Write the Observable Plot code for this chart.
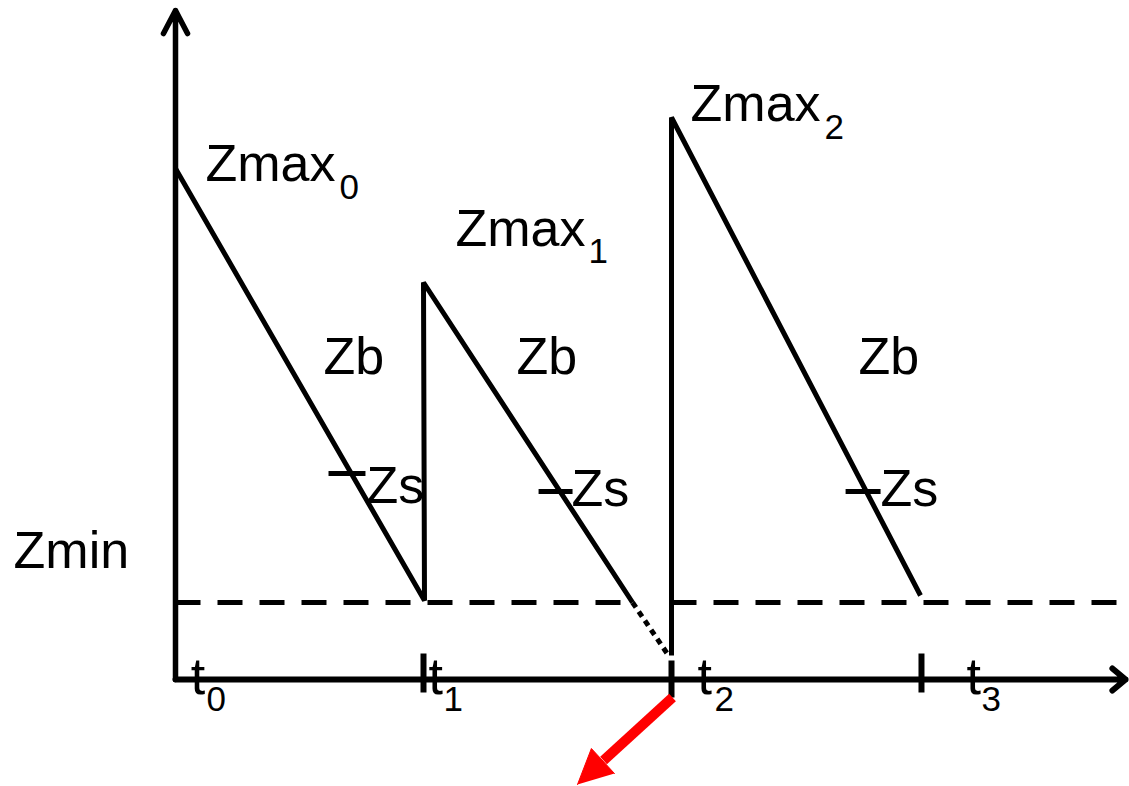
<!DOCTYPE html>
<html><head><meta charset="utf-8">
<script src="https://cdn.jsdelivr.net/npm/d3@7"></script>
<script src="https://cdn.jsdelivr.net/npm/@observablehq/plot@0.6"></script>
<style>html,body{margin:0;padding:0;background:#fff;} svg{display:block}</style>
</head><body><div id="chart"></div>
<script>
// ---- schematic values: t = time units, z = level units ----
// solid sawtooth vertices (two connected pieces)
const sawT   = [0, 1.004, 1.0, 1.843, 2.0, 2.0, 3.004];
const sawZ   = [5.11, 0.79, 3.97, 0.77, 0.24, 5.62, 0.84];
const sawSeg = ["a", "a", "a", "a", "b", "b", "b"];

// dotted continuation below Zmin
const dotT = [1.843, 1.988];
const dotZ = [0.77, 0.24];

// Zmin dashed level
const zmin = 0.77;
const zminStart = [0, 2.0];
const zminEnd = [1.843, 3.847];

// Zs short marks
const zsStart = [0.617, 1.464, 2.702];
const zsEnd   = [0.766, 1.601, 2.843];
const zsZ     = [2.06, 1.88, 1.88];

// time ticks on the axis
const tickT      = [1.0, 2.0, 3.008];
const tickTop    = [0.26, 0.19, 0.26];
const tickBottom = [-0.13, -0.18, -0.13];

// axis extents
const axisTMax = 3.831;
const axisZMax = 6.69;

// labels (baseline-left anchored)
const labelText = ["Zmax", "Zmax", "Zmax", "Zmin", "Zb", "Zb", "Zb", "Zs", "Zs", "Zs", "t", "t", "t", "t"];
const labelT = [0.121, 1.129, 2.077, -0.653, 0.597, 1.375, 2.754, 0.770, 1.597, 2.843, 0.061, 1.020, 2.105, 3.190];
const labelZ = [4.99, 4.34, 5.59, 1.12, 3.06, 3.06, 3.06, 1.77, 1.74, 1.74, -0.14, -0.14, -0.14, -0.14];

// subscripts
const subText = ["0", "1", "2", "0", "1", "2", "3"];
const subT = [0.661, 1.665, 2.617, 0.125, 1.081, 2.173, 3.25];
const subZ = [4.81, 4.17, 5.41, -0.31, -0.31, -0.31, -0.31];

// red arrow (shaft and filled head)
const redShaftT = [2.004, 1.726];
const redShaftZ = [-0.18, -0.81];
const redHeadT = [1.621, 1.677, 1.770];
const redHeadZ = [-1.05, -0.69, -0.94];

// ---- build tables ----
const saw = sawT.map((t, i) => ({t, z: sawZ[i], s: sawSeg[i]}));
const dots = dotT.map((t, i) => ({t, z: dotZ[i]}));
const zminSegs = zminStart.map((t, i) => ({t1: t, t2: zminEnd[i], z: zmin}));
const zsMarks = zsStart.map((t, i) => ({t1: t, t2: zsEnd[i], z: zsZ[i]}));
const ticks = tickT.map((t, i) => ({t, z1: tickTop[i], z2: tickBottom[i]}));
const labels = labelText.map((text, i) => ({text, t: labelT[i], z: labelZ[i]}));
const subs = subText.map((text, i) => ({text, t: subT[i], z: subZ[i]}));
const redShaft = [{t1: redShaftT[0], z1: redShaftZ[0], t2: redShaftT[1], z2: redShaftZ[1]}];
const redHead = redHeadT.map((t, i) => ({t, z: redHeadZ[i]}));

const font = "Liberation Sans, Arial, Helvetica, sans-serif";

const chart = Plot.plot({
  width: 1129,
  height: 786,
  margin: 0,
  style: {background: "white", overflow: "visible"},
  x: {domain: [-175 / 248, (1129 - 175) / 248], axis: null},
  y: {domain: [-(786 - 679) / 100, 679 / 100], axis: null},
  marks: [
    // Zmin dashed level
    Plot.link(zminSegs, {x1: "t1", x2: "t2", y1: "z", y2: "z", stroke: "black", strokeWidth: 5, strokeDasharray: "25,17", strokeLinecap: "butt"}),
    // dotted continuation
    Plot.line(dots, {x: "t", y: "z", stroke: "black", strokeWidth: 5, strokeDasharray: "6,5", strokeLinecap: "butt"}),
    // sawtooth
    Plot.line(saw, {x: "t", y: "z", z: "s", stroke: "black", strokeWidth: 5, strokeLinejoin: "miter", strokeLinecap: "butt"}),
    // Zs marks
    Plot.link(zsMarks, {x1: "t1", x2: "t2", y1: "z", y2: "z", stroke: "black", strokeWidth: 5}),
    // axis ticks
    Plot.link(ticks, {x1: "t", x2: "t", y1: "z1", y2: "z2", stroke: "black", strokeWidth: 6}),
    // axes with arrowheads
    Plot.arrow([{t1: 0, z1: 0, t2: 0, z2: axisZMax}], {x1: "t1", y1: "z1", x2: "t2", y2: "z2", stroke: "black", strokeWidth: 5.5, headAngle: 55, headLength: 7.1}),
    Plot.arrow([{t1: 0, z1: 0, t2: axisTMax, z2: 0}], {x1: "t1", y1: "z1", x2: "t2", y2: "z2", stroke: "black", strokeWidth: 6, headAngle: 80, headLength: 4.3}),
    // red arrow
    Plot.link(redShaft, {x1: "t1", y1: "z1", x2: "t2", y2: "z2", stroke: "#ff0000", strokeWidth: 10, strokeLinecap: "butt"}),
    Plot.line(redHead, {x: "t", y: "z", fill: "#ff0000", stroke: "#ff0000", strokeWidth: 1}),
    // labels
    Plot.text(labels, {x: "t", y: "z", text: "text", textAnchor: "start", lineAnchor: "bottom", fontSize: 52, fontFamily: font, fill: "black"}),
    Plot.text(subs, {x: "t", y: "z", text: "text", textAnchor: "start", lineAnchor: "bottom", fontSize: 35, fontFamily: font, fill: "black"})
  ]
});
document.getElementById("chart").append(chart);
</script>
</body></html>
